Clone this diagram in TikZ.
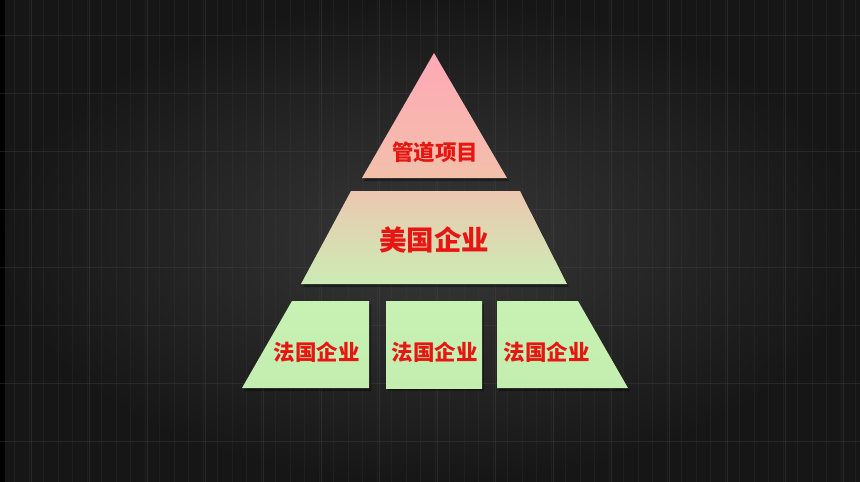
\documentclass[tikz,border=0pt]{standalone}
\usepackage{fontspec}
\newfontfamily\cjk{Noto Sans CJK SC}[BoldFont={* Black}]
\definecolor{bgin}{RGB}{56,56,56}
\definecolor{bgout}{RGB}{22,22,22}
\definecolor{gridc}{RGB}{72,72,72}
\definecolor{pinktop}{RGB}{255,168,182}
\definecolor{peach}{RGB}{242,192,170}
\definecolor{midtop}{RGB}{236,200,176}
\definecolor{midbot}{RGB}{204,236,180}
\definecolor{lgreen}{RGB}{200,242,180}
\definecolor{lgreenb}{RGB}{196,238,176}
\definecolor{txtred}{RGB}{232,22,18}
\tikzset{
  lbl/.style={font=\cjk\bfseries\fontsize{#1}{#1}\selectfont, text=txtred, inner sep=0pt},
  shad/.style={fill=black, opacity=0.35}
}
\begin{document}
\begin{tikzpicture}[x=1pt,y=-1pt]
\useasboundingbox (0,0) rectangle (860,482);
% background
\shade[inner color=bgin, outer color=bgout] (0,0) rectangle (860,482);
\fill[black] (0,0) rectangle (5,482);
\draw[gridc, opacity=0.18, line width=0.5pt] (5,0) grid[step=14.5] (860,482);
\foreach \x in {31,89,147,205,263,321,379,437,495,553,611,669,727,785,843}
  \draw[gridc, opacity=0.35, line width=0.8pt] (\x,0) -- (\x,482);
\foreach \y in {35,93,151,209,267,325,383,441}
  \draw[gridc, opacity=0.35, line width=0.8pt] (0,\y) -- (860,\y);
% shadows
\fill[shad] (436,56) -- (509,181) -- (364,181) -- cycle;
\fill[shad] (352,194) -- (522,194) -- (569,287) -- (303,287) -- cycle;
\fill[shad] (294,304) -- (371,304) -- (371,391) -- (244,391) -- cycle;
\fill[shad] (388,304) -- (484,304) -- (484,391) -- (388,391) -- cycle;
\fill[shad] (499,304) -- (580,304) -- (630,391) -- (499,391) -- cycle;
% shapes
\shade[top color=pinktop, bottom color=peach] (434,53) -- (507,178) -- (362,178) -- cycle;
\shade[top color=midtop, bottom color=midbot] (351,191) -- (520,191) -- (567,284) -- (301,284) -- cycle;
\shade[top color=lgreen, bottom color=lgreenb] (292,301) -- (369,301) -- (369,388) -- (242,388) -- cycle;
\shade[top color=lgreen, bottom color=lgreenb] (386,301) -- (482,301) -- (482,388) -- (386,388) -- cycle;
\shade[top color=lgreen, bottom color=lgreenb] (497,301) -- (578,301) -- (628,388) -- (497,388) -- cycle;
% labels
\node[lbl=21.5] (top) at (435,152) {管道项目};
\node[lbl=27.5] (mid) at (434,240) {美国企业};
\node[lbl=21.5] (b1) at (316.5,352) {法国企业};
\node[lbl=21.5] (b2) at (434.5,352) {法国企业};
\node[lbl=21.5] (b3) at (546.5,352) {法国企业};
\end{tikzpicture}
\end{document}
